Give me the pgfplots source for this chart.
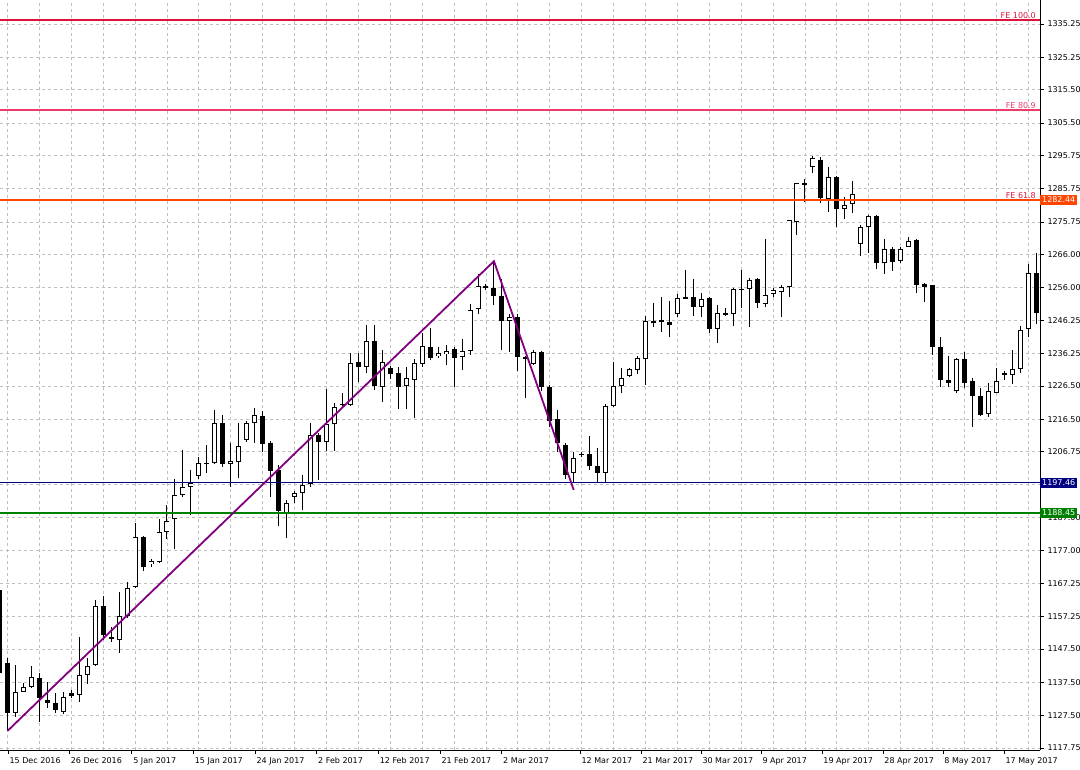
\documentclass[border=0pt]{standalone}
\usepackage{pgfplots}
\pgfplotsset{compat=1.18}
\usepackage{pgfplotstable}
\usepackage{fontspec}
\setmainfont{DejaVu Sans}
\definecolor{crimsonc}{RGB}{220,20,60}
\definecolor{pinkc}{RGB}{235,60,105}
\definecolor{orangec}{RGB}{255,69,0}
\definecolor{navyc}{RGB}{0,0,128}
\definecolor{greenc}{RGB}{0,128,0}
\definecolor{purplec}{RGB}{128,0,128}

\pgfplotstableread{
i o h l c
0 1165.2 1166.7 1138.2 1140.3
1 1143.3 1144.8 1122.9 1128.3
2 1128.3 1142.7 1127.1 1134.6
3 1134.6 1137.3 1134.6 1136.1
4 1136.1 1142.4 1135.8 1139.1
5 1138.8 1140.3 1125.6 1132.8
6 1132.2 1137.6 1129.8 1131.3
7 1131.3 1134.3 1128.3 1129.2
8 1128.6 1134.6 1128.0 1133.1
9 1134.3 1135.2 1132.8 1133.4
10 1133.7 1151.1 1131.6 1139.7
11 1139.7 1144.8 1137.0 1142.4
12 1142.7 1162.2 1142.4 1160.4
13 1160.4 1163.4 1150.2 1151.7
14 1151.1 1154.1 1149.6 1150.5
15 1150.2 1164.6 1146.3 1157.4
16 1157.4 1167.6 1156.8 1165.8
17 1166.1 1185.4 1165.8 1181.2
18 1181.2 1181.5 1170.9 1172.1
19 1173.0 1174.5 1172.1 1173.9
20 1173.6 1186.6 1173.3 1182.6
21 1182.6 1190.8 1180.6 1185.9
22 1186.6 1198.6 1177.5 1193.8
23 1193.8 1207.3 1193.2 1196.2
24 1196.2 1201.3 1187.8 1197.4
25 1199.5 1205.2 1198.6 1203.4
26 1203.1 1208.8 1200.4 1203.4
27 1203.4 1219.3 1203.1 1215.4
28 1215.4 1217.8 1202.2 1203.1
29 1203.1 1209.4 1196.2 1204.0
30 1203.7 1215.4 1198.9 1208.5
31 1210.3 1216.0 1209.7 1215.4
32 1215.4 1219.9 1209.4 1217.8
33 1217.5 1219.0 1206.7 1209.1
34 1209.4 1210.0 1193.2 1201.0
35 1201.3 1202.8 1184.4 1188.9
36 1188.4 1192.3 1180.9 1191.4
37 1193.2 1195.0 1191.4 1194.4
38 1194.4 1199.8 1189.3 1196.8
39 1197.1 1215.4 1196.2 1211.8
40 1211.8 1212.4 1198.3 1209.7
41 1209.7 1225.6 1207.0 1215.1
42 1215.1 1221.4 1207.0 1220.2
43 1221.2 1224.4 1220.2 1220.9
44 1220.8 1236.4 1220.5 1233.4
45 1233.7 1236.4 1227.7 1232.2
46 1232.2 1244.8 1230.4 1240.0
47 1240.0 1244.8 1225.3 1226.5
48 1226.2 1237.3 1221.7 1233.7
49 1231.9 1232.5 1228.6 1230.1
50 1230.4 1232.2 1219.6 1226.2
51 1226.5 1232.2 1219.6 1228.9
52 1228.3 1234.6 1216.9 1233.4
53 1233.1 1242.4 1232.2 1238.5
54 1238.2 1243.9 1234.3 1234.9
55 1235.5 1238.2 1234.9 1236.4
56 1236.1 1238.8 1232.8 1237.0
57 1237.6 1238.2 1226.2 1234.9
58 1235.2 1240.6 1231.3 1237.0
59 1237.0 1251.1 1235.8 1249.3
60 1249.6 1260.2 1248.1 1256.6
61 1256.6 1257.2 1255.4 1256.0
62 1256.0 1264.0 1250.8 1253.6
63 1253.6 1258.7 1237.3 1246.0
64 1246.0 1248.1 1236.7 1247.2
65 1247.2 1248.1 1231.0 1235.2
66 1235.2 1235.5 1222.9 1234.6
67 1233.1 1237.3 1232.8 1236.7
68 1236.7 1237.0 1225.0 1226.2
69 1226.2 1226.8 1214.2 1216.0
70 1216.6 1219.3 1206.7 1209.4
71 1208.8 1209.4 1198.6 1199.8
72 1200.4 1206.7 1197.7 1204.9
73 1206.1 1206.7 1205.2 1205.8
74 1206.1 1211.5 1201.3 1202.5
75 1202.5 1207.9 1197.7 1200.4
76 1200.4 1221.1 1197.7 1220.5
77 1220.5 1233.7 1220.2 1226.5
78 1226.5 1231.9 1224.4 1228.9
79 1229.5 1231.9 1229.2 1231.6
80 1231.3 1235.5 1230.1 1234.9
81 1234.6 1247.5 1226.8 1246.0
82 1246.0 1251.4 1244.2 1245.7
83 1246.3 1253.2 1242.7 1245.7
84 1245.7 1252.0 1241.2 1244.8
85 1248.1 1254.1 1247.2 1252.9
86 1253.2 1261.3 1252.6 1252.6
87 1253.2 1258.7 1247.5 1250.2
88 1250.2 1254.4 1247.2 1252.6
89 1252.9 1253.2 1242.4 1243.6
90 1243.6 1250.8 1239.4 1248.4
91 1248.4 1249.9 1247.5 1248.1
92 1248.1 1256.0 1244.5 1255.7
93 1255.7 1261.3 1250.0 1255.4
94 1255.7 1259.0 1244.2 1258.4
95 1258.7 1259.0 1249.9 1251.4
96 1251.1 1270.7 1250.2 1253.8
97 1254.1 1256.0 1253.2 1255.4
98 1254.7 1256.9 1247.2 1256.3
99 1256.3 1276.4 1253.2 1276.4
100 1275.8 1287.5 1271.9 1287.5
101 1287.2 1288.7 1281.8 1287.4
102 1292.3 1295.6 1290.5 1295.0
103 1294.4 1295.3 1281.5 1283.0
104 1282.7 1292.3 1278.8 1289.3
105 1289.3 1289.6 1274.3 1279.7
106 1279.7 1283.3 1276.7 1280.9
107 1281.2 1288.1 1278.5 1284.2
108 1269.2 1274.9 1265.6 1274.3
109 1274.3 1277.9 1266.5 1277.6
110 1277.6 1277.9 1261.7 1263.5
111 1263.5 1270.7 1260.2 1267.7
112 1267.7 1268.3 1261.1 1263.8
113 1264.1 1268.3 1263.5 1267.7
114 1268.3 1271.3 1268.3 1270.1
115 1270.4 1270.7 1254.4 1256.9
116 1257.2 1257.5 1251.7 1256.3
117 1256.9 1256.9 1235.8 1238.2
118 1238.2 1241.2 1226.2 1228.3
119 1228.3 1235.5 1226.2 1227.4
120 1225.0 1234.9 1224.4 1234.6
121 1234.6 1236.7 1225.9 1227.4
122 1228.0 1228.9 1214.2 1223.5
123 1223.5 1225.9 1217.5 1217.8
124 1218.1 1227.4 1217.2 1225.0
125 1224.4 1231.9 1224.4 1228.0
126 1230.1 1231.0 1228.3 1230.2
127 1229.8 1237.3 1227.1 1231.6
128 1231.6 1244.5 1230.4 1243.3
129 1243.6 1263.2 1241.2 1260.5
130 1260.5 1266.5 1245.1 1248.5
}\candles

\begin{document}
\begin{tikzpicture}
\path[use as bounding box] (0,0) rectangle (1080pt,770pt);
\begin{axis}[
  at={(0pt,20pt)}, anchor=south west,
  width=1040pt, height=750pt, scale only axis,
  xmin=0.06, xmax=130.47, ymin=1117.17, ymax=1342.46,
  axis x line=bottom, axis y line=right,
  axis line style={-, black, line width=0.9pt},
  tick align=outside, major tick length=4pt, minor tick length=0pt,
  tick style={black, line width=0.8pt},
  xtick={1.07,8.75,16.58,24.30,32.04,39.77,47.50,55.23,62.97,72.79,80.44,87.96,95.49,103.13,110.78,118.30,125.96},
  xticklabels={15 Dec 2016,26 Dec 2016,5 Jan 2017,15 Jan 2017,24 Jan 2017,2 Feb 2017,12 Feb 2017,21 Feb 2017,2 Mar 2017,12 Mar 2017,21 Mar 2017,30 Mar 2017,9 Apr 2017,19 Apr 2017,28 Apr 2017,8 May 2017,17 May 2017},
  minor xtick={1,5,...,129},
  xminorgrids=true, xmajorgrids=false, ymajorgrids=true,
  minor grid style={gray!50, dash pattern=on 3pt off 3pt, line width=0.8pt},
  major grid style={gray!50, dash pattern=on 3pt off 3pt, line width=0.8pt},
  ytick={1117.75,1127.50,1137.50,1147.50,1157.25,1167.25,1177.00,1187.00,1197.00,1206.75,1216.50,1226.50,1236.25,1246.25,1256.00,1266.00,1275.75,1285.75,1295.75,1305.50,1315.50,1325.25,1335.25},
  yticklabels={1117.75,1127.50,1137.50,1147.50,1157.25,1167.25,1177.00,1187.00,{},1206.75,1216.50,1226.50,1236.25,1246.25,1256.00,1266.00,1275.75,1285.75,1295.75,1305.50,1315.50,1325.25,1335.25},
  ticklabel style={font=\fontsize{8}{9}\selectfont, text=black},
  xticklabel style={anchor=north west, xshift=-2pt},
  yticklabel style={anchor=west},
]
% wicks
\addplot[only marks, mark=*, mark size=0pt, mark options={opacity=0}, forget plot,
  error bars/.cd, y dir=both, y explicit, error mark=none,
  error bar style={draw=black, line width=1pt}]
  table[x=i, y expr={(\thisrow{h}+\thisrow{l})/2}, y error expr={(\thisrow{h}-\thisrow{l})/2}] {\candles};
% bodies (black)
\addplot[only marks, mark=*, mark size=0pt, mark options={opacity=0}, forget plot,
  error bars/.cd, y dir=both, y explicit, error mark=none,
  error bar style={draw=black, line width=5pt}]
  table[x=i, y expr={(\thisrow{o}+\thisrow{c})/2}, y error expr={max(abs(\thisrow{c}-\thisrow{o})/2,0.2)}] {\candles};
% hollow (white) bodies of rising candles
\addplot[only marks, mark=*, mark size=0pt, mark options={opacity=0}, forget plot,
  restrict expr to domain={\thisrow{c}-\thisrow{o}}{0.9:1000},
  error bars/.cd, y dir=both, y explicit, error mark=none,
  error bar style={draw=white, line width=3.2pt}]
  table[x=i, y expr={(\thisrow{o}+\thisrow{c})/2}, y error expr={(\thisrow{c}-\thisrow{o})/2-0.3}] {\candles};
% level lines
\addplot[color=crimsonc, line width=1.3pt] coordinates {(0,1336.45) (131,1336.45)};
\addplot[color=pinkc, line width=1.3pt] coordinates {(0,1309.4) (131,1309.4)};
\addplot[color=orangec, line width=1.8pt] coordinates {(0,1282.44) (131,1282.44)};
\addplot[color=navyc, line width=1.5pt] coordinates {(0,1197.46) (131,1197.46)};
\addplot[color=greenc, line width=1.8pt] coordinates {(0,1188.45) (131,1188.45)};
% projection line
\addplot[color=purplec, line width=1.8pt] coordinates {(1,1122.9) (62,1264.0) (72,1195.3)};
\node[anchor=south east, text=crimsonc, font=\fontsize{8}{9}\selectfont, inner sep=1pt] at (axis cs:130.1,1336.45) {FE 100.0};
\node[anchor=south east, text=pinkc, font=\fontsize{8}{9}\selectfont, inner sep=1pt] at (axis cs:130.1,1309.4) {FE 80.9};
\node[anchor=south east, text=crimsonc, font=\fontsize{8}{9}\selectfont, inner sep=1pt] at (axis cs:130.1,1282.44) {FE 61.8};
\coordinate (r1) at (axis cs:130.47,1282.44);
\coordinate (r2) at (axis cs:130.47,1197.46);
\coordinate (r3) at (axis cs:130.47,1188.45);
\end{axis}
\node[fill=orangec, text=white, anchor=west, inner xsep=2pt, inner ysep=2pt, font=\fontsize{8}{9}\selectfont] at (r1) {1282.44};
\node[fill=navyc, text=white, anchor=west, inner xsep=2pt, inner ysep=2pt, font=\fontsize{8}{9}\selectfont] at (r2) {1197.46};
\node[fill=greenc, text=white, anchor=west, inner xsep=2pt, inner ysep=2pt, font=\fontsize{8}{9}\selectfont] at (r3) {1188.45};
\end{tikzpicture}
\end{document}
